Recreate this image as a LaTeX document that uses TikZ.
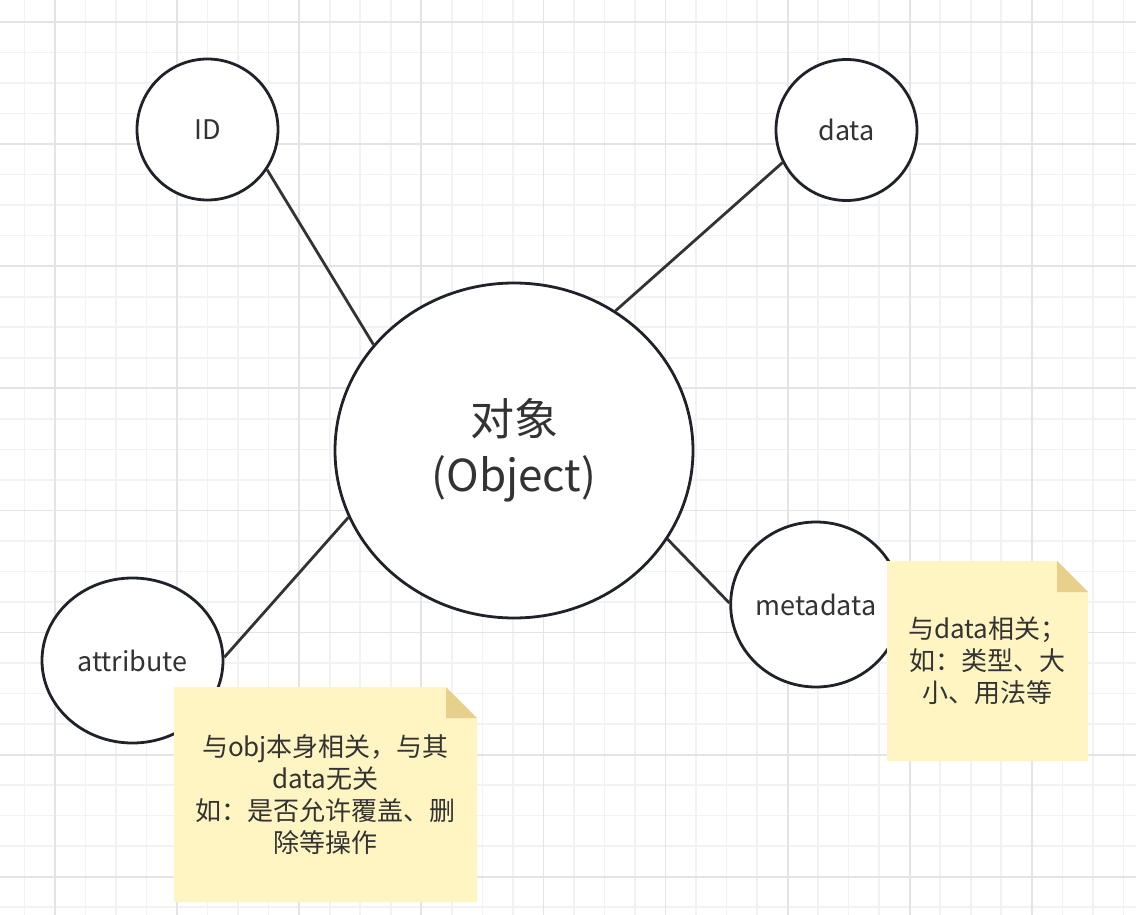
\documentclass[tikz,border=0pt]{standalone}
\usepackage{fontspec}
\setmainfont{Noto Sans CJK SC}
\usetikzlibrary{shapes.geometric}

\definecolor{gridminor}{HTML}{F2F2F2}
\definecolor{gridmajor}{HTML}{E4E4E4}
\definecolor{inkline}{HTML}{1F2329}
\definecolor{inktext}{HTML}{333333}
\definecolor{notefill}{HTML}{FFF5C2}
\definecolor{notefold}{HTML}{E6D08C}

\tikzset{
    bubble/.style={circle, draw=inkline, line width=2.8pt, fill=white, inner sep=0pt,
        text=inktext, font=\fontsize{27}{32}\selectfont},
    blob/.style={ellipse, draw=inkline, line width=2.8pt, fill=white, inner sep=0pt,
        text=inktext, align=center, font=\fontsize{27}{32}\selectfont},
    link/.style={draw=inktext, line width=2.8pt},
    sticky/.style={inner sep=0pt, align=center, text=inktext,
        font=\fontsize{26}{32}\selectfont,
        path picture={
            \fill[notefill] (path picture bounding box.north west)
                -- ([xshift=-31pt]path picture bounding box.north east)
                -- ([yshift=-31pt]path picture bounding box.north east)
                -- (path picture bounding box.south east)
                -- (path picture bounding box.south west) -- cycle;
            \fill[notefold] ([xshift=-31pt]path picture bounding box.north east)
                -- ([xshift=-31pt,yshift=-31pt]path picture bounding box.north east)
                -- ([yshift=-31pt]path picture bounding box.north east) -- cycle;
        }},
}

\begin{document}
\begin{tikzpicture}[x=1pt,y=-1pt]
    \useasboundingbox (0,0) rectangle (1136,915);
    \fill[white] (0,0) rectangle (1136,915);
    %% grid paper
    \foreach \i in {-1,...,35}
        \draw[gridminor, line width=1.6pt] ({55+\i*30.525},0) -- ({55+\i*30.525},915);
    \foreach \j in {0,...,29}
        \draw[gridminor, line width=1.6pt] (0,{22+\j*30.525}) -- (1136,{22+\j*30.525});
    \foreach \i in {0,4,...,32}
        \draw[gridmajor, line width=1.8pt] ({55+\i*30.525},0) -- ({55+\i*30.525},915);
    \foreach \j in {0,4,...,28}
        \draw[gridmajor, line width=1.8pt] (0,{22+\j*30.525}) -- (1136,{22+\j*30.525});

    %% object and its parts
    \node[blob, minimum width=358pt, minimum height=335pt,
        font=\fontsize{44}{56}\selectfont] (obj) at (514,450.5) {对象\\(Object)};
    \node[bubble, minimum size=141pt] (id) at (207.5,129.5) {ID};
    \node[bubble, minimum size=141pt] (data) at (846.5,130) {data};
    \node[blob, minimum width=181pt, minimum height=165pt] (attr) at (132.5,660.5) {attribute};
    \node[blob, minimum width=166pt, minimum height=165pt] (meta) at (816,604.5) {metadata};

    \draw[link] (id.-34) -- (obj.143);
    \draw[link] (data.207) -- (obj.54);
    \draw[link] (attr.2) -- (obj.202);
    \draw[link] (meta.179) -- (obj.-30);

    %% notes
    \node[sticky, minimum width=303pt, minimum height=215pt] (attrnote) at (325.5,794.5)
        {与obj本身相关，与其\\data无关\\如：是否允许覆盖、删\\除等操作};
    \node[sticky, minimum width=201pt, minimum height=200pt] (metanote) at (987.5,661)
        {与data相关；\\如：类型、大\\小、用法等};
\end{tikzpicture}
\end{document}
